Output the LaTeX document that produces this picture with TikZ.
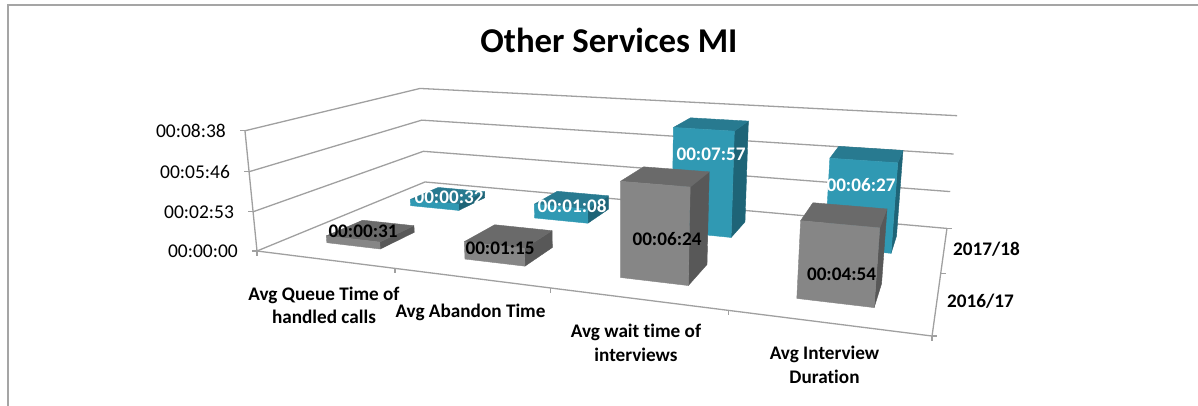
\documentclass[tikz,border=0pt]{standalone}
\usepackage{fontspec}
\setmainfont{Carlito}[Ligatures=NoCommon]

% colours
\definecolor{gridgray}{RGB}{160,160,160}
\definecolor{framegray}{RGB}{165,165,165}
\definecolor{grayfront}{RGB}{134,134,134}
\definecolor{graytop}{RGB}{106,106,106}
\definecolor{grayside}{RGB}{88,88,88}
\definecolor{tealfront}{RGB}{48,153,179}
\definecolor{tealtop}{RGB}{40,122,144}
\definecolor{tealside}{RGB}{30,100,119}

% perspective projection: #2 = category position, #3 = series depth,
% #4 = value in seconds; result in pixel units
\newcommand\mkpt[4]{%
  \pgfmathsetmacro\pw{1-0.05726*(#2)+0.1499*(#3)-0.24*(#4)/3880}%
  \pgfmathsetmacro\px{(115.38*(#2)+147.7*(#3)+257-0.03835*(#4))/\pw}%
  \pgfmathsetmacro\py{(2.01*(#2)-7.23*(#3)+251-0.24*(#4))/\pw}%
  \coordinate (#1) at (\px,\py);%
}

% one 3-D column: name, left position, front depth, height (s), colour prefix
\newcommand\drawbox[5]{%
  \mkpt{#1-a}{#2}{#3}{0}%
  \mkpt{#1-b}{#2+0.4}{#3}{0}%
  \mkpt{#1-c}{#2+0.4}{#3}{#4}%
  \mkpt{#1-d}{#2}{#3}{#4}%
  \mkpt{#1-e}{#2}{#3+0.4}{#4}%
  \mkpt{#1-f}{#2+0.4}{#3+0.4}{#4}%
  \mkpt{#1-g}{#2+0.4}{#3+0.4}{0}%
  \path[face,fill=#5side,draw=#5side] (#1-b) -- (#1-g) -- (#1-f) -- (#1-c) -- cycle;
  \path[face,fill=#5top,draw=#5top] (#1-d) -- (#1-c) -- (#1-f) -- (#1-e) -- cycle;
  \path[face,fill=#5front,draw=#5front] (#1-a) -- (#1-b) -- (#1-c) -- (#1-d) -- cycle;
}

\tikzset{
  grid/.style={draw=gridgray,line width=1.3pt},
  face/.style={line width=0.4pt,line join=round},
  lab/.style={inner sep=0pt,font=\fontsize{19.2}{23.5}\selectfont\bfseries},
  dlab/.style={lab,anchor=base},
  dlabw/.style={lab,anchor=base,text=white},
  catlab/.style={lab,anchor=base,align=center},
  axlab/.style={inner sep=0pt,anchor=east,font=\fontsize{19.5}{23}\selectfont},
}

\begin{document}
\begin{tikzpicture}[x=1pt,y=-1pt]
\useasboundingbox (0,0) rectangle (1198,406);

% chart frame
\draw[framegray,line width=2pt] (8,406) -- (8,5) -- (1198,5);

% title
\node[inner sep=0pt,anchor=base,font=\fontsize{34.8}{40}\selectfont\bfseries]
  (title) at (609,53) {Other Services MI};

% walls: gridlines, value axis ticks and labels
\foreach \v/\t [count=\i] in {0/00:00:00,172.8/00:02:53,345.6/00:05:46,518.4/00:08:38}{
  \mkpt{L\i}{0}{0}{\v}
  \mkpt{C\i}{0}{2}{\v}
  \mkpt{R\i}{4}{2}{\v}
  \draw[grid] (L\i) -- (C\i) -- (R\i);
  \draw[grid] (L\i) -- ++(-5,0);
  \node[axlab] (yl\i) at ([xshift=-19pt]L\i) {\t};
}
\draw[grid] (L1) -- (L4);

% floor: category axis and series axis
\foreach \i in {0,...,4}{
  \mkpt{F\i}{\i}{0}{0}
  \draw[grid] (F\i) -- ++(0,5);
}
\draw[grid] (F0) -- (F4);
\foreach \i in {0,1,2}{
  \mkpt{S\i}{4}{\i}{0}
  \draw[grid] (S\i) -- ++(5,0);
}
\draw[grid] (S0) -- (S2);

% 2017/18 columns (back row)
\drawbox{t1}{0.3}{1.3}{32}{teal}
\drawbox{t2}{1.3}{1.3}{68}{teal}
\drawbox{t3}{2.3}{1.3}{477}{teal}
\drawbox{t4}{3.3}{1.3}{387}{teal}

% 2016/17 columns (front row)
\drawbox{g1}{0.3}{0.3}{31}{gray}
\drawbox{g2}{1.3}{0.3}{75}{gray}
\drawbox{g3}{2.3}{0.3}{384}{gray}
\drawbox{g4}{3.3}{0.3}{294}{gray}

% data labels
\node[dlabw] (vt1) at (449,203) {00:00:32};
\node[dlabw] (vt2) at (572,212) {00:01:08};
\node[dlabw] (vt3) at (711,160.5) {00:07:57};
\node[dlabw] (vt4) at (861,191) {00:06:27};
\node[dlab] (vg1) at (363,237) {00:00:31};
\node[dlab] (vg2) at (500,254) {00:01:15};
\node[dlab] (vg3) at (667,245) {00:06:24};
\node[dlab] (vg4) at (841.5,280) {00:04:54};

% category labels (anchored at the baseline of the last line)
\node[catlab] (c1) at (324,323.5) {Avg Queue Time of\\handled calls};
\node[catlab] (c2) at (470.5,317) {Avg Abandon Time};
\node[catlab] (c3) at (636,361) {Avg wait time of\\interviews};
\node[catlab] (c4) at (824.5,383) {Avg Interview\\Duration};

% series labels
\node[dlab] (s2) at (986.5,255) {2017/18};
\node[dlab] (s1) at (980.5,307) {2016/17};
\end{tikzpicture}
\end{document}
